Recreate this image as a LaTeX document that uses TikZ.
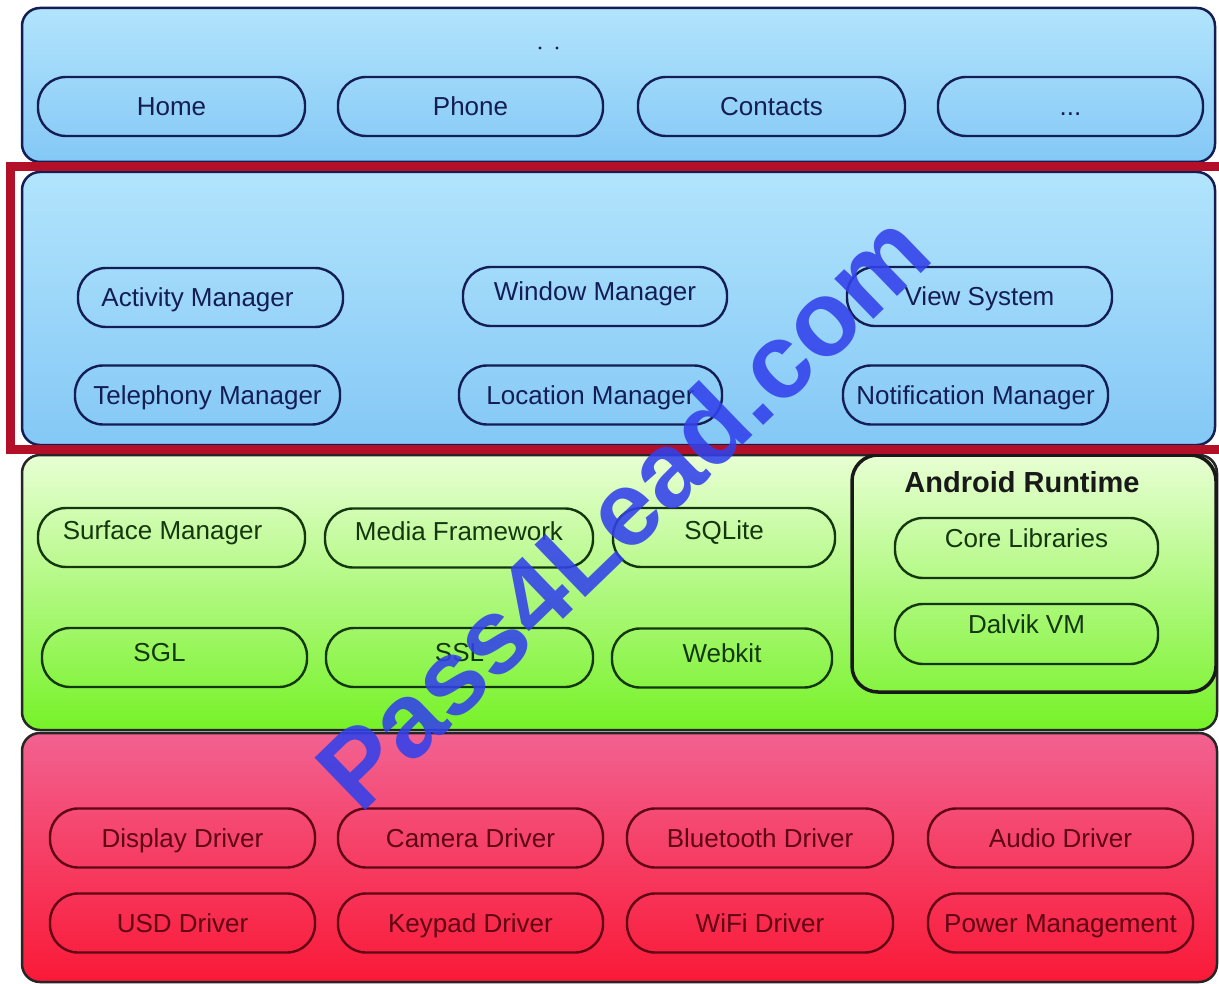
\documentclass[tikz,border=0pt]{standalone}
\usepackage{fontspec}
\setmainfont{Liberation Sans}
\definecolor{navy}{RGB}{20,30,85}
\definecolor{dgreen}{RGB}{20,55,15}
\definecolor{maroon}{RGB}{95,5,20}
\definecolor{framered}{RGB}{180,15,40}
\definecolor{wmblue}{RGB}{50,65,235}
\definecolor{bluetop}{RGB}{178,228,252}
\definecolor{bluebot}{RGB}{132,200,246}
\definecolor{greentop}{RGB}{232,255,212}
\definecolor{greenbot}{RGB}{118,242,40}
\definecolor{redtop}{RGB}{242,98,145}
\definecolor{redbot}{RGB}{250,25,55}
\begin{document}
\begin{tikzpicture}[x=1pt,y=-1pt,
  panel/.style={draw=#1, line width=2.5pt, rounded corners=18pt, inner sep=0pt},
  pill/.style={draw, line width=2.4pt, rounded corners=28pt, minimum height=59pt,
    inner sep=0pt, text height=18.5pt, text depth=0pt, font=\fontsize{26}{30}\selectfont},
  bpill/.style={pill, draw=navy, text=navy},
  gpill/.style={pill, draw=dgreen, text=dgreen},
  rpill/.style={pill, draw=maroon, text=maroon},
]
\useasboundingbox (0,0) rectangle (1219,984);
\fill[white] (0,0) rectangle (1219,984);

% layers
\node[panel=navy, top color=bluetop, bottom color=bluebot, minimum width=1193pt, minimum height=154pt] (apps) at (618.5,85) {};
\node[panel=navy, top color=bluetop, bottom color=bluebot, minimum width=1193pt, minimum height=273pt] (fw) at (618.5,308.5) {};
\node[panel=black!85, top color=greentop, bottom color=greenbot, minimum width=1195pt, minimum height=275pt] (libs) at (619.5,592.5) {};
\node[panel=black!85, top color=redtop, bottom color=redbot, minimum width=1195pt, minimum height=249pt] (kern) at (619.5,857.5) {};

\fill[navy] (540,48) circle (1.6) (557,48) circle (1.6);

% applications
\node[bpill, minimum width=267pt] (home) at (171.5,106.5) {Home};
\node[bpill, minimum width=265pt] (phone) at (470.5,106.5) {Phone};
\node[bpill, minimum width=267pt] (contacts) at (771.5,106.5) {Contacts};
\node[bpill, minimum width=265pt] (more) at (1070.5,106.5) {...};

% framework
\node[bpill, minimum width=265pt] (am) at (210.5,297.5) {Activity Manager\kern26pt};
\node[bpill, minimum width=264pt] (wm) at (595,296.5) {\raisebox{5pt}{Window Manager}};
\node[bpill, minimum width=265pt] (vs) at (979.5,296.5) {View System};
\node[bpill, minimum width=265pt] (tm) at (207.5,395) {Telephony Manager};
\node[bpill, minimum width=263pt] (lm) at (590.5,395) {Location Manager};
\node[bpill, minimum width=265pt] (nm) at (975.5,395) {Notification Manager};

% libraries
\node[gpill, minimum width=267pt] (sm) at (171.5,537.5) {\raisebox{7pt}{Surface Manager}\kern18pt};
\node[gpill, minimum width=268pt] (mf) at (459,538) {\raisebox{7pt}{Media Framework}};
\node[gpill, minimum width=222pt] (sq) at (724,537.5) {\raisebox{7pt}{SQLite}};
\node[gpill, minimum width=265pt] (sgl) at (174.5,657.5) {\raisebox{5pt}{SGL}\kern30pt};
\node[gpill, minimum width=267pt] (ssl) at (459.5,657.5) {\raisebox{5pt}{SSL}};
\node[gpill, minimum width=220pt] (wk) at (722,658) {\raisebox{5pt}{Webkit}};

% android runtime
\node[draw=black!90, line width=3.5pt, rounded corners=26pt, minimum width=364pt, minimum height=237pt, inner sep=0pt] (ar) at (1034,573.5) {};
\node[font=\fontsize{29}{34}\selectfont\bfseries, text=black!90] (artitle) at (1022,482) {Android Runtime};
\node[gpill, minimum width=263pt, minimum height=60pt] (core) at (1026.5,548) {\raisebox{10pt}{Core Libraries}};
\node[gpill, minimum width=263pt, minimum height=60pt] (dalvik) at (1026.5,634) {\raisebox{10pt}{Dalvik VM}};

% kernel
\node[rpill, minimum width=265pt] (dd) at (182.5,838) {Display Driver};
\node[rpill, minimum width=265pt] (cd) at (470.5,838) {Camera Driver};
\node[rpill, minimum width=266pt] (bd) at (760,838) {Bluetooth Driver};
\node[rpill, minimum width=265pt] (ad) at (1060.5,838) {Audio Driver};
\node[rpill, minimum width=265pt] (ud) at (182.5,923) {USD Driver};
\node[rpill, minimum width=265pt] (kd) at (470.5,923) {Keypad Driver};
\node[rpill, minimum width=266pt] (wd) at (760,923) {WiFi Driver};
\node[rpill, minimum width=265pt] (pm) at (1060.5,923) {Power Management};

% highlight frame
\draw[framered, line width=9pt] (10,167) rectangle (1226,449);

% watermark
\node[text=wmblue, opacity=0.88, font=\fontsize{106}{120}\selectfont\bfseries, rotate=44, inner sep=0pt] (wmark) at (622,510) {Pass4Lead.com};
\end{tikzpicture}
\end{document}
